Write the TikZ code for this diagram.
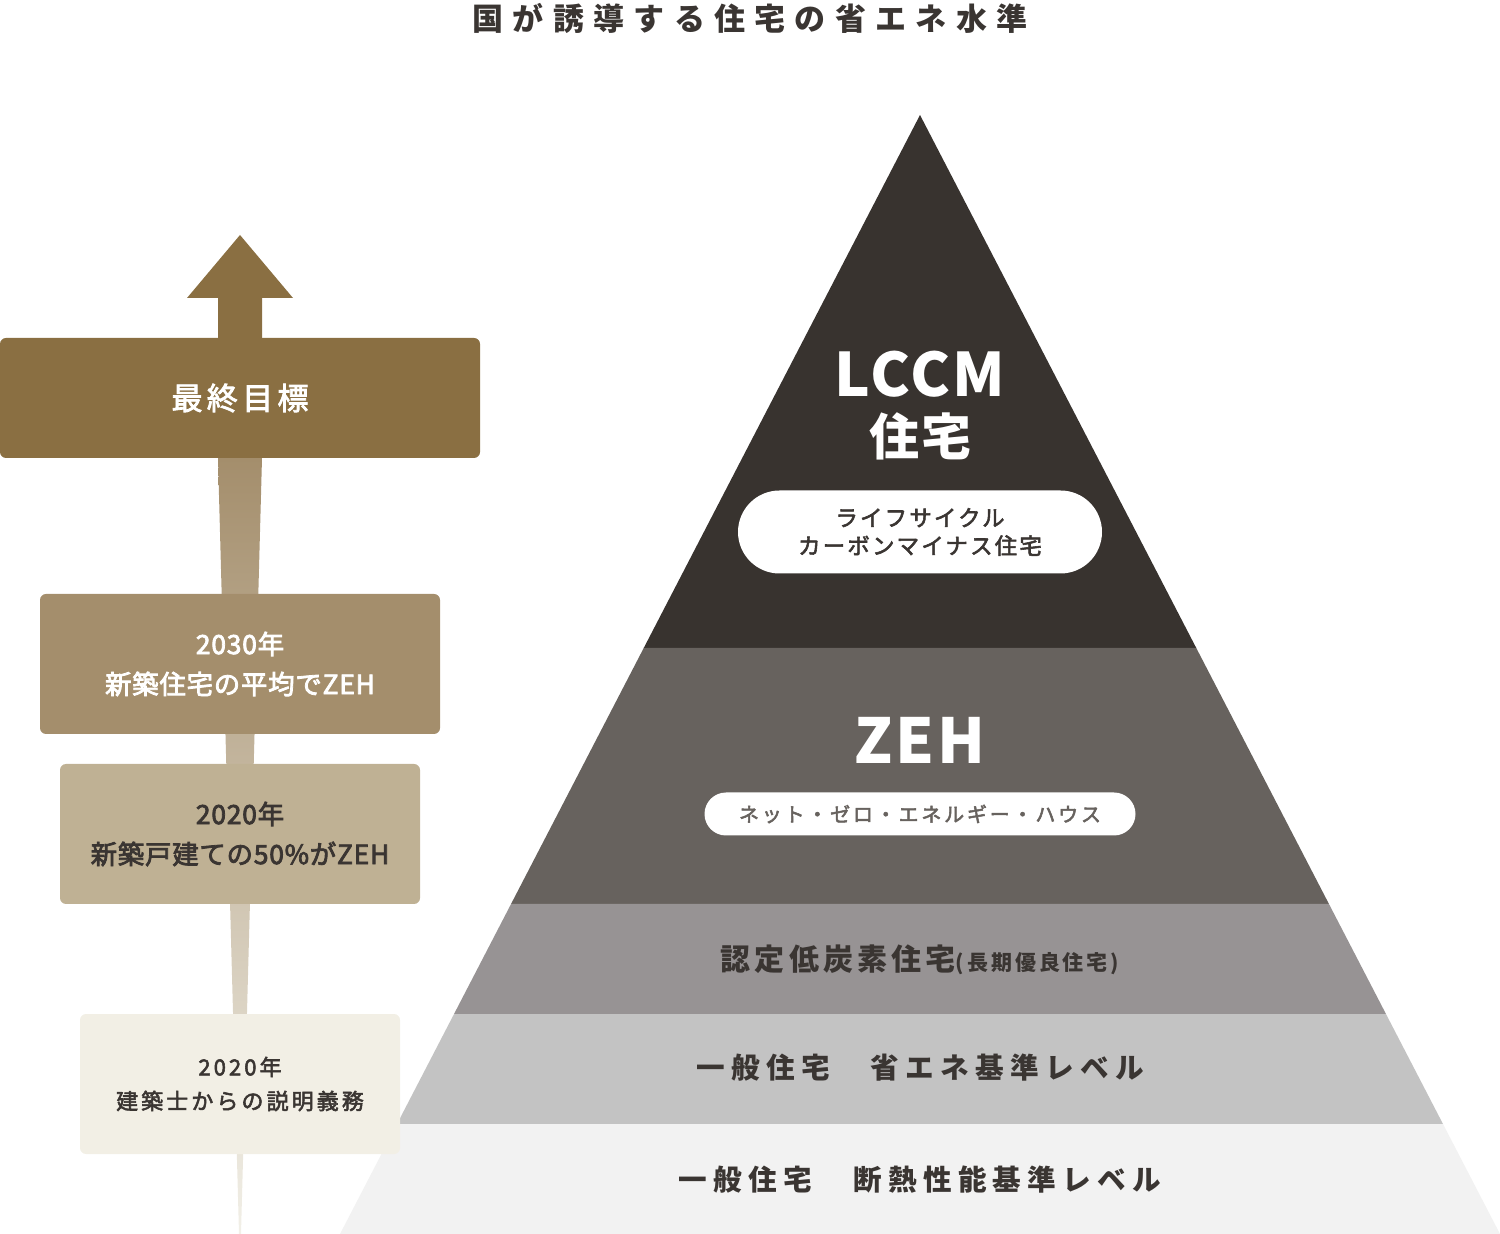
\documentclass[tikz,border=0pt]{standalone}
\usepackage{fontspec}
\setmainfont{Noto Sans CJK JP}
\newfontfamily\jptitle[LetterSpace=30]{Noto Sans CJK JP}
\newfontfamily\jpwide[LetterSpace=22]{Noto Sans CJK JP}
\newfontfamily\jpmid[LetterSpace=14]{Noto Sans CJK JP}
\newfontfamily\jpnarrow[LetterSpace=4]{Noto Sans CJK JP}
\newfontfamily\jpmedmid[LetterSpace=14,FakeBold=2.5]{Noto Sans CJK JP}
\newfontfamily\jpmedlow[LetterSpace=10,FakeBold=2.5]{Noto Sans CJK JP}
\newfontfamily\jpmednarrow[LetterSpace=3,FakeBold=3]{Noto Sans CJK JP}
\usetikzlibrary{positioning}

\definecolor{inkdark}{HTML}{3A3532}
\definecolor{goalbrown}{HTML}{8A6F42}
\definecolor{boxA}{HTML}{A48E6C}
\definecolor{boxB}{HTML}{BFB194}
\definecolor{boxC}{HTML}{F2EFE5}
\definecolor{stemtop}{HTML}{A48E6C}
\definecolor{stembot}{HTML}{F2F0E8}
\definecolor{tierA}{HTML}{38332F}
\definecolor{tierB}{HTML}{67625E}
\definecolor{tierC}{HTML}{979394}
\definecolor{tierD}{HTML}{C3C3C3}
\definecolor{tierE}{HTML}{F2F2F2}

\begin{document}
\begin{tikzpicture}[x=0.5pt,y=-0.5pt,
   every node/.style={inner sep=0pt,align=center},
   yearbox/.style={rounded corners=3pt,minimum height=70pt,
      font=\jpmednarrow\fontsize{13.2}{20}\selectfont},
   pill/.style={fill=white,rounded corners=#1},
   tiertext/.style={text=inkdark,font=\jpwide\bfseries\fontsize{14.3}{16}\selectfont}]
  \useasboundingbox (0,0) rectangle (1500,1234);

  \node (title) at (750,18) [text=inkdark,font=\jptitle\bfseries\fontsize{15.5}{18}\selectfont]
     {国が誘導する住宅の省エネ水準};

  \foreach \ya/\yb/\c in {115/648/tierA,648/904/tierB,904/1014/tierC,1014/1124/tierD,1124/1234/tierE}{
    \pgfmathsetmacro\da{0.51832*(\ya-115)}
    \pgfmathsetmacro\db{0.51832*(\yb-115)}
    \fill[\c] (920-\da,\ya) -- (920+\da,\ya) -- (920+\db,\yb) -- (920-\db,\yb) -- cycle;
  }

  \shade[top color=stemtop,bottom color=stembot] (218,458) -- (262,458) -- (241,1234) -- (239,1234) -- cycle;
  \fill[goalbrown] (187,298) -- (240,235) -- (293,298) -- (262,298) -- (262,338) -- (218,338) -- (218,298) -- cycle;

  \node (goal) at (240,398) [fill=goalbrown,rounded corners=3pt,minimum width=240pt,minimum height=60pt,
     text=white,font=\jpmedmid\fontsize{15.5}{18}\selectfont] {最終目標};
  \node (y2030) at (240,664) [yearbox,fill=boxA,minimum width=200pt,text=white]
     {2030年\\新築住宅の平均でZEH};
  \node (y2020) at (240,834) [yearbox,fill=boxB,minimum width=180pt,text=inkdark]
     {2020年\\新築戸建ての50\%がZEH};
  \node (duty) at (240,1084) [yearbox,fill=boxC,minimum width=160pt,text=inkdark,
     font=\jpmedmid\fontsize{11}{17}\selectfont] {2020年\\建築士からの説明義務};

  \node (lccm) at (920,374) [text=white,font=\jpnarrow\bfseries\fontsize{30}{32}\selectfont] {LCCM};
  \node (lccmhouse) at (920,436) [text=white,font=\jpnarrow\bfseries\fontsize{25}{28}\selectfont] {住宅};
  \node (lccmnote) at (920,532) [pill=20.75pt,minimum width=182pt,minimum height=41.5pt,
     text=inkdark,font=\jpmedlow\fontsize{11.2}{14}\selectfont]
     {ライフサイクル\\カーボンマイナス住宅};

  \node (zeh) at (920,740) [text=white,font=\jpnarrow\bfseries\fontsize{31}{34}\selectfont] {ZEH};
  \node (zehnote) at (920,814) [pill=10.75pt,minimum width=215.5pt,minimum height=21.5pt,
     text=tierB,font=\jpmedmid\fontsize{10}{12}\selectfont]
     {ネット・ゼロ・エネルギー・ハウス};

  \node (lowcarbon) at (920,960) [tiertext,font=\jpmid\bfseries\fontsize{15}{16}\selectfont]
     {認定低炭素住宅{\fontsize{10.5}{12}\selectfont(長期優良住宅)}};
  \node (saveenergy) at (920,1068) [tiertext] {一般住宅　省エネ基準レベル};
  \node (insulation) at (920,1180) [tiertext] {一般住宅　断熱性能基準レベル};
\end{tikzpicture}
\end{document}
